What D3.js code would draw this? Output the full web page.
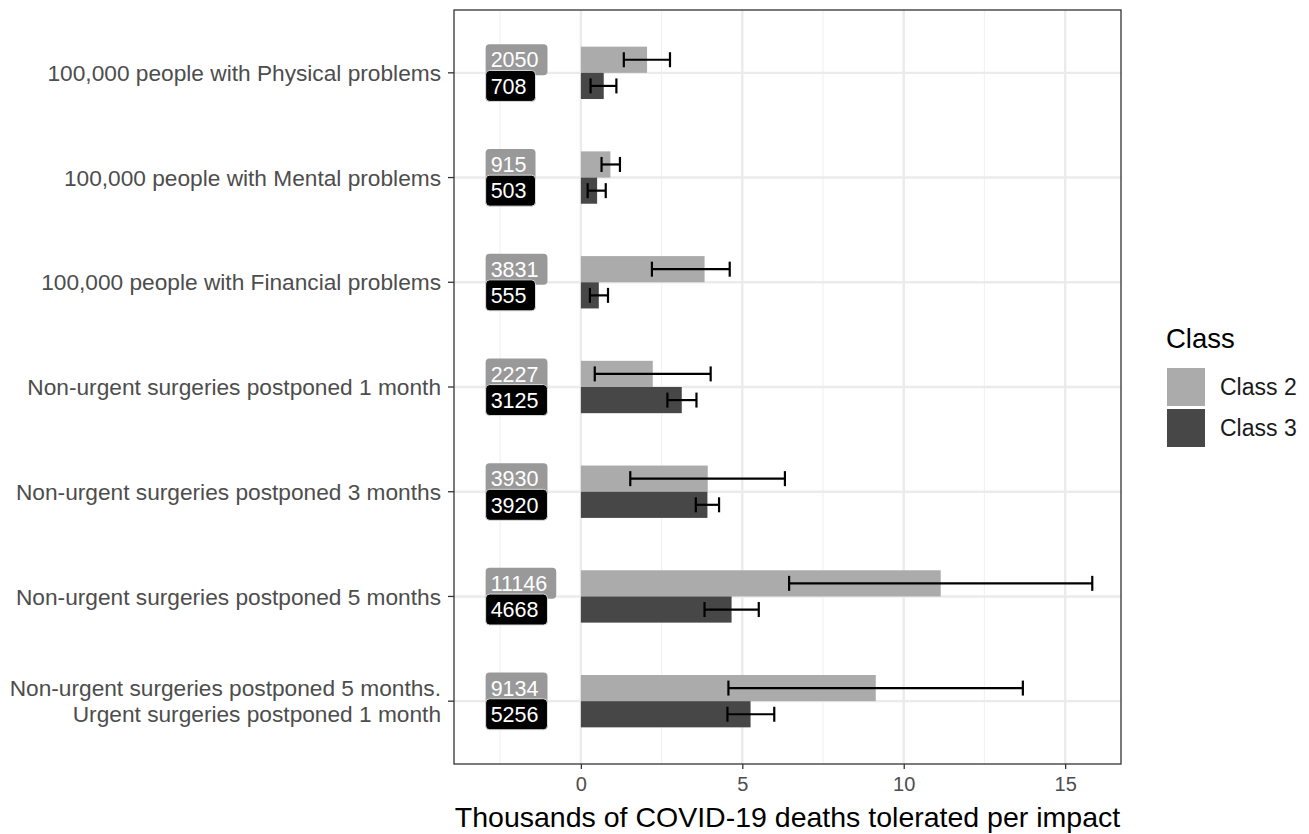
<!DOCTYPE html>
<html>
<head>
<meta charset="utf-8">
<script src="https://cdn.jsdelivr.net/npm/d3@7"></script>
<style>
  body { margin: 0; background: #fff; }
  text { font-family: "Liberation Sans", Arial, sans-serif; }
</style>
</head>
<body>
<div id="chart"></div>
<script>
'use strict';

// Data
const categories = [
    '100,000 people with Physical problems',
    '100,000 people with Mental problems',
    '100,000 people with Financial problems',
    'Non-urgent surgeries postponed 1 month',
    'Non-urgent surgeries postponed 3 months',
    'Non-urgent surgeries postponed 5 months',
    'Non-urgent surgeries postponed 5 months.\nUrgent surgeries postponed 1 month'
];
const classes = ['Class 2', 'Class 3'];
const class2Values = [2050, 915, 3831, 2227, 3930, 11146, 9134];
const class3Values = [708, 503, 555, 3125, 3920, 4668, 5256];
const class2Low = [1.33, 0.64, 2.20, 0.43, 1.53, 6.45, 4.57];
const class2High = [2.76, 1.21, 4.61, 4.02, 6.32, 15.84, 13.69];
const class3Low = [0.30, 0.21, 0.28, 2.68, 3.56, 3.83, 4.54];
const class3High = [1.10, 0.77, 0.84, 3.58, 4.28, 5.51, 5.99];
const xTicks = [0, 5, 10, 15];

// Config svg
const w = 1309, h = 834;
const margin = {top: 10, right: 188, bottom: 70, left: 454};
const gW = w - margin.left - margin.right;
const gH = h - margin.top - margin.bottom;

const svg = d3.select('#chart').append('svg')
    .attr('width', w)
    .attr('height', h);

const g = svg.append('g')
    .attr('transform', `translate(${margin.left},${margin.top})`);

// Scales
const x = d3.scaleLinear().domain([-3.93, 16.73]).range([0, gW]);
const y = d3.scaleBand().domain(categories).range([0, gH]).paddingOuter(0.1).paddingInner(0);
const sub = d3.scaleBand().domain(classes).range([y.bandwidth() * 0.25, y.bandwidth() * 0.75]);
const fill = d3.scaleOrdinal().domain(classes).range(['#ababab', '#474747']);
const labelFill = d3.scaleOrdinal().domain(classes).range(['#999999', '#000000']);

// Rows
const rows = [];
categories.forEach((c, i) => {
    rows.push({cat: c, cls: 'Class 2', v: class2Values[i], lo: class2Low[i], hi: class2High[i]});
    rows.push({cat: c, cls: 'Class 3', v: class3Values[i], lo: class3Low[i], hi: class3High[i]});
});

// Grid (minor)
const minor = [-2.5, 2.5, 7.5, 12.5];
g.selectAll('.minor').data(minor).join('line')
    .attr('x1', d => x(d)).attr('x2', d => x(d))
    .attr('y1', 0).attr('y2', gH)
    .attr('stroke', '#f2f2f2').attr('stroke-width', 1.2);

// Grid (major)
g.selectAll('.vmajor').data(xTicks).join('line')
    .attr('x1', d => x(d)).attr('x2', d => x(d))
    .attr('y1', 0).attr('y2', gH)
    .attr('stroke', '#ebebeb').attr('stroke-width', 2.4);
g.selectAll('.hmajor').data(categories).join('line')
    .attr('x1', 0).attr('x2', gW)
    .attr('y1', d => y(d) + y.bandwidth() / 2).attr('y2', d => y(d) + y.bandwidth() / 2)
    .attr('stroke', '#ebebeb').attr('stroke-width', 2.4);

// Bars
g.selectAll('.bar').data(rows).join('rect')
    .attr('x', x(0))
    .attr('y', d => y(d.cat) + sub(d.cls))
    .attr('width', d => x(d.v / 1000) - x(0))
    .attr('height', sub.bandwidth())
    .attr('fill', d => fill(d.cls));

// Error bars
const cap = 7.5;
const err = g.selectAll('.err').data(rows).join('g')
    .attr('stroke', '#000').attr('stroke-width', 2.2).attr('fill', 'none');
err.append('line')
    .attr('x1', d => x(d.lo)).attr('x2', d => x(d.hi))
    .attr('y1', d => y(d.cat) + sub(d.cls) + sub.bandwidth() / 2)
    .attr('y2', d => y(d.cat) + sub(d.cls) + sub.bandwidth() / 2);
['lo', 'hi'].forEach(k => {
    err.append('line')
        .attr('x1', d => x(d[k])).attr('x2', d => x(d[k]))
        .attr('y1', d => y(d.cat) + sub(d.cls) + sub.bandwidth() / 2 - cap)
        .attr('y2', d => y(d.cat) + sub(d.cls) + sub.bandwidth() / 2 + cap);
});

// Value labels
const labels = g.selectAll('.lab').data(rows).join('g')
    .attr('transform', d => `translate(${x(-2.95)},${y(d.cat) + sub(d.cls) + sub.bandwidth() / 2})`);
labels.append('rect').attr('class', 'lbox');
labels.append('text')
    .attr('x', 5)
    .attr('dy', '0.36em')
    .attr('fill', '#fff')
    .style('font-size', '21.5px')
    .text(d => d.v);
labels.each(function() {
    const lab = d3.select(this);
    const tw = lab.select('text').node().getComputedTextLength();
    lab.select('rect')
        .attr('x', 0).attr('y', -15.5)
        .attr('width', tw + 14).attr('height', 31)
        .attr('rx', 4).attr('ry', 4)
        .attr('fill', d => labelFill(d.cls))
        .attr('stroke', d => d.cls === 'Class 3' ? '#dddddd' : 'none')
        .attr('stroke-width', 1);
});

// Panel border
g.append('rect')
    .attr('width', gW).attr('height', gH)
    .attr('fill', 'none').attr('stroke', '#333333').attr('stroke-width', 1.3);

// Y axis
const yAxis = g.append('g');
categories.forEach(c => {
    const cy = y(c) + y.bandwidth() / 2;
    yAxis.append('line')
        .attr('x1', -6).attr('x2', 0).attr('y1', cy).attr('y2', cy)
        .attr('stroke', '#333333').attr('stroke-width', 1.3);
    const parts = c.split('\n');
    const t = yAxis.append('text')
        .attr('text-anchor', 'end')
        .attr('fill', '#4d4d4d')
        .style('font-size', '22.7px');
    parts.forEach((p, i) => {
        t.append('tspan')
            .attr('x', -13)
            .attr('y', cy + (i - (parts.length - 1) / 2) * 26)
            .attr('dy', '0.36em')
            .text(p);
    });
});

// X axis
const xAxis = g.append('g')
    .attr('transform', `translate(0,${gH})`)
    .call(d3.axisBottom(x).tickValues(xTicks).tickSize(5).tickPadding(8));
xAxis.select('.domain').remove();
xAxis.selectAll('.tick line').attr('stroke', '#333333').attr('stroke-width', 1.3);
xAxis.selectAll('.tick text')
    .attr('fill', '#4d4d4d')
    .style('font-size', '20px')
    .style('font-family', '"Liberation Sans", Arial, sans-serif');

// X title
svg.append('text')
    .attr('x', margin.left + gW / 2)
    .attr('y', 827)
    .attr('text-anchor', 'middle')
    .attr('fill', '#000')
    .style('font-size', '28.5px')
    .text('Thousands of COVID-19 deaths tolerated per impact');

// Legend
const legend = svg.append('g').attr('transform', 'translate(1166,348)');
legend.append('text')
    .attr('x', 0).attr('y', 0)
    .style('font-size', '27.5px')
    .attr('fill', '#000')
    .text('Class');
classes.forEach((c, i) => {
    legend.append('rect')
        .attr('x', 1).attr('y', 20 + i * 41)
        .attr('width', 38).attr('height', 38)
        .attr('fill', fill(c));
    legend.append('text')
        .attr('x', 54).attr('y', 20 + i * 41 + 19)
        .attr('dy', '0.36em')
        .style('font-size', '23px')
        .attr('fill', '#1a1a1a')
        .text(c);
});
</script>
</body>
</html>
